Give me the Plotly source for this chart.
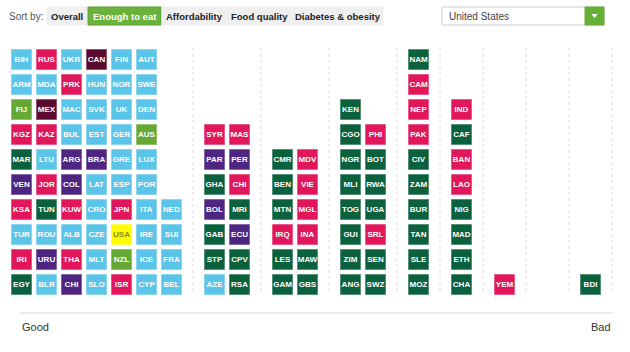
import math
import plotly.graph_objects as go

# ---- data ----
# each bin: list of country codes, filled column by column, bottom-up
bin1 = ["EGY", "IRI", "TUR", "KSA", "VEN", "MAR", "KGZ", "FIJ", "ARM", "BIH",
        "BLR", "URU", "ROU", "TUN", "JOR", "LTU", "KAZ", "MEX", "MDA", "RUS",
        "CHI", "THA", "ALB", "KUW", "COL", "ARG", "BUL", "MAC", "PRK", "UKR",
        "SLO", "MLT", "CZE", "CRO", "LAT", "BRA", "EST", "SVK", "HUN", "CAN",
        "ISR", "NZL", "USA", "JPN", "ESP", "GRE", "GER", "UK", "NOR", "FIN",
        "CYP", "ICE", "IRE", "ITA", "POR", "LUX", "AUS", "DEN", "SWE", "AUT",
        "BEL", "FRA", "SUI", "NED"]
bin2 = ["AZE", "STP", "GAB", "BOL", "GHA", "PAR", "SYR",
        "RSA", "CPV", "ECU", "MRI", "CHN", "PER", "MAS"]
bin3 = ["GAM", "LES", "IRQ", "MTN", "BEN", "CMR",
        "GBS", "MAW", "INA", "MGL", "VIE", "MDV"]
bin4 = ["ANG", "ZIM", "GUI", "TOG", "MLI", "NGR", "CGO", "KEN",
        "SWZ", "SEN", "SRL", "UGA", "RWA", "BOT", "PHI"]
bin5 = ["MOZ", "SLE", "TAN", "BUR", "ZAM", "CIV", "PAK", "NEP", "CAM", "NAM"]
bin6 = ["CHA", "ETH", "MAD", "NIG", "LAO", "BAN", "CAF", "IND"]
bin7 = ["YEM"]
bin8 = []
bin9 = ["BDI"]
bins = [bin1, bin2, bin3, bin4, bin5, bin6, bin7, bin8, bin9]

# display label (China shown as CHI like Chile)
labels = {"CHN": "CHI"}

europe = ["BIH", "UKR", "FIN", "AUT", "ARM", "MDA", "HUN", "NOR", "SWE", "MAC", "SVK", "UK",
          "DEN", "BUL", "EST", "GER", "LTU", "GRE", "LUX", "LAT", "ESP", "POR", "CRO", "ITA",
          "NED", "TUR", "ROU", "ALB", "CZE", "IRE", "SUI", "MLT", "ICE", "FRA", "BLR", "SLO",
          "CYP", "BEL", "AZE"]
asia = ["RUS", "PRK", "KGZ", "KAZ", "JOR", "KSA", "KUW", "JPN", "IRI", "THA", "ISR", "SYR",
        "MAS", "CHN", "MDV", "VIE", "MGL", "IRQ", "INA", "PHI", "SRL", "CAM", "NEP", "PAK",
        "IND", "BAN", "LAO", "YEM"]
north_america = ["CAN", "MEX"]
oceania = ["FIJ", "AUS", "NZL"]
latin = ["ARG", "BRA", "VEN", "COL", "URU", "CHI", "PAR", "PER", "BOL", "ECU"]
selected = ["USA"]
# everything else: Africa

region_colors = {
    "europe": "#5bc4e9",
    "asia": "#e2165b",
    "north_america": "#5b0b2f",
    "oceania": "#66a834",
    "latin": "#4e2580",
    "selected": "#fffb00",
    "africa": "#0b603d",
}

sort_buttons = ["Overall", "Enough to eat", "Affordability", "Food quality", "Diabetes & obesity"]
active_button = "Enough to eat"
country = "United States"


def region(code):
    if code in selected:
        return "selected"
    if code in europe:
        return "europe"
    if code in asia:
        return "asia"
    if code in north_america:
        return "north_america"
    if code in oceania:
        return "oceania"
    if code in latin:
        return "latin"
    return "africa"


def lighten(hexc, f):
    r, g, b = int(hexc[1:3], 16), int(hexc[3:5], 16), int(hexc[5:7], 16)
    r, g, b = [int(v + (255 - v) * f) for v in (r, g, b)]
    return "#%02x%02x%02x" % (r, g, b)


# ---- layout computation ----
STEP = 25
MAXROWS = 10
xs, ys, txt, cols, lines, tcols = [], [], [], [], [], []
boundaries = []
start = 0
for b in bins:
    ncols = max(1, math.ceil(len(b) / MAXROWS))
    nrows = math.ceil(len(b) / ncols) if b else 0
    for i, code in enumerate(b):
        c, r = divmod(i, nrows)
        xs.append(start + 21.5 + c * STEP)
        ys.append(284.5 - r * STEP)
        txt.append(labels.get(code, code))
        col = region_colors[region(code)]
        cols.append(col)
        lines.append(lighten(col, 0.3))
        tcols.append("#8a8a20" if region(code) == "selected" else "white")
    start += ncols * STEP + 18
    boundaries.append(start)

fig = go.Figure()
fig.add_trace(go.Scatter(
    x=xs, y=ys, mode="markers+text", text=txt,
    marker=dict(symbol="square", size=20, color=cols, line=dict(color=lines, width=1)),
    textfont=dict(family="Liberation Sans", size=8, color=tcols, weight="bold"),
    textposition="middle center", hoverinfo="text", showlegend=False,
))

shapes = []
for bx in boundaries:
    shapes.append(dict(type="line", xref="x", yref="y", x0=bx, x1=bx, y0=48, y1=293,
                       line=dict(color="#dcdcdc", width=1, dash="dot"), layer="below"))
# baseline
shapes.append(dict(type="line", xref="x", yref="y", x0=20, x1=613, y0=313, y1=313,
                   line=dict(color="#e6e6e6", width=1.5), layer="below"))

annotations = [
    dict(x=20, y=327, xref="x", yref="y", text="Good", showarrow=False, xanchor="left",
         yanchor="middle", font=dict(family="Liberation Sans", size=11, color="#333")),
    dict(x=613, y=327, xref="x", yref="y", text="Bad", showarrow=False, xanchor="right",
         yanchor="middle", font=dict(family="Liberation Sans", size=11, color="#333")),
    dict(x=7, y=16, xref="x", yref="y", text="Sort by:", showarrow=False, xanchor="left",
         yanchor="middle", font=dict(family="Liberation Sans", size=10, color="#555")),
]

# sort buttons
btn_edges = [47, 88, 162, 227, 292, 384]
for i, label in enumerate(sort_buttons):
    x0, x1 = btn_edges[i], btn_edges[i + 1] - 1
    active = label == active_button
    shapes.append(dict(type="rect", xref="x", yref="y", x0=x0, x1=x1, y0=7, y1=25,
                       fillcolor="#6ab23c" if active else "#efefef",
                       line=dict(color="#5a9e30" if active else "#efefef", width=1)))
    annotations.append(dict(x=(x0 + x1) / 2, y=16.5, xref="x", yref="y", text="<b>%s</b>" % label.replace("&", "&amp;"),
                            showarrow=False, xanchor="center", yanchor="middle",
                            font=dict(family="Liberation Sans", size=9.5,
                                      color="white" if active else "#222")))

# dropdown
shapes.append(dict(type="rect", xref="x", yref="y", x0=442, x1=604, y0=7, y1=25,
                   fillcolor="white", line=dict(color="#cccccc", width=1)))
shapes.append(dict(type="rect", xref="x", yref="y", x0=585, x1=604, y0=7, y1=25,
                   fillcolor="#67ae37", line=dict(color="#67ae37", width=1)))
shapes.append(dict(type="path", xref="x", yref="y", path="M 591.5 14 L 597.5 14 L 594.5 18 Z",
                   fillcolor="white", line=dict(color="white", width=0)))
annotations.append(dict(x=447, y=16.5, xref="x", yref="y", text=country, showarrow=False,
                        xanchor="left", yanchor="middle",
                        font=dict(family="Liberation Sans", size=10, color="#444")))

fig.update_layout(
    width=630, height=352, margin=dict(l=0, r=0, t=0, b=0),
    paper_bgcolor="white", plot_bgcolor="white",
    xaxis=dict(range=[0, 630], visible=False, fixedrange=True),
    yaxis=dict(range=[352, 0], visible=False, fixedrange=True),
    shapes=shapes, annotations=annotations,
)
fig.write_html("out.html")
